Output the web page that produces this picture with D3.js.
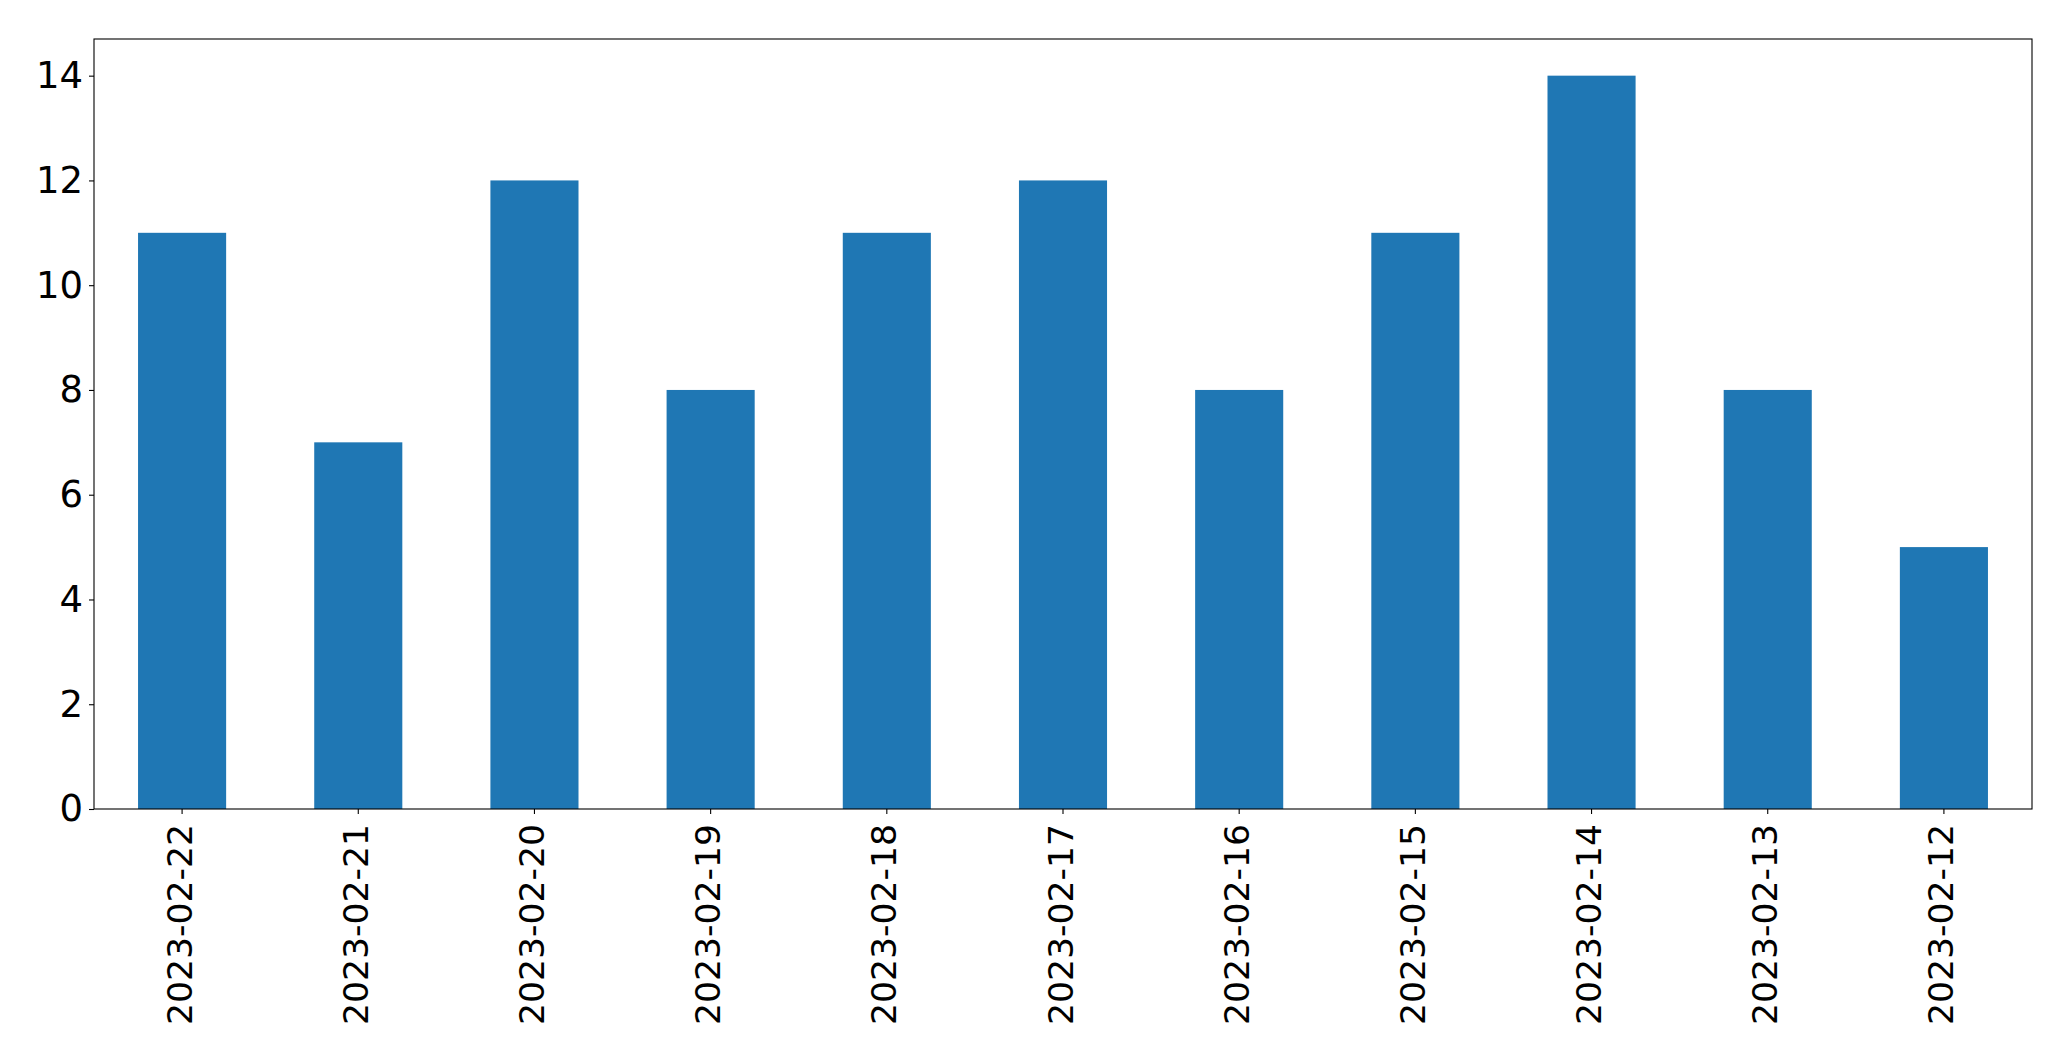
<!DOCTYPE html>
<html><head><meta charset="utf-8">
<script src="https://cdn.jsdelivr.net/npm/d3@7"></script>
<style>body{margin:0;background:#fff}svg{display:block}text{font-family:"DejaVu Sans",sans-serif;fill:#000}</style>
</head><body>
<script>
const categories = ["2023-02-22","2023-02-21","2023-02-20","2023-02-19","2023-02-18","2023-02-17","2023-02-16","2023-02-15","2023-02-14","2023-02-13","2023-02-12"];
const values = [11,7,12,8,11,12,8,11,14,8,5];
const yTicks = [0,2,4,6,8,10,12,14];

const W=2071,H=1061;
const m={left:94,right:2032,top:39,bottom:809};
const svg=d3.select("body").append("svg").attr("width",W).attr("height",H);
const x=d3.scaleBand().domain(categories).range([m.left,m.right]).paddingInner(0.5).paddingOuter(0.25);
const y=d3.scaleLinear().domain([0,14.7]).range([m.bottom,m.top]);

svg.append("g").selectAll("rect").data(values).join("rect")
  .attr("x",(d,i)=>x(categories[i])).attr("width",x.bandwidth())
  .attr("y",d=>y(d)).attr("height",d=>y(0)-y(d)).attr("fill","#1f77b4");

const ya=svg.append("g").attr("transform",`translate(${m.left},0)`)
  .call(d3.axisLeft(y).tickValues(yTicks).tickSize(5).tickPadding(6).tickFormat(d3.format("d")));
ya.select(".domain").remove();
ya.selectAll("line").attr("stroke","#000").attr("stroke-width",1.1);
ya.selectAll("text").attr("font-size",37).style("font-family","DejaVu Sans");

const xa=svg.append("g").attr("transform",`translate(0,${m.bottom})`)
  .call(d3.axisBottom(x).tickSize(5).tickPadding(0));
xa.select(".domain").remove();
xa.selectAll("line").attr("stroke","#000").attr("stroke-width",1.1);
xa.selectAll("text").attr("font-size",34.6).style("font-family","DejaVu Sans")
  .attr("text-anchor","end").attr("dy",null).attr("y",0)
  .attr("transform","translate(0,15) rotate(-90)").attr("dominant-baseline","middle");

svg.append("rect").attr("x",m.left).attr("y",m.top).attr("width",m.right-m.left).attr("height",m.bottom-m.top)
  .attr("fill","none").attr("stroke","#000").attr("stroke-width",1.1);
</script>
</body></html>
